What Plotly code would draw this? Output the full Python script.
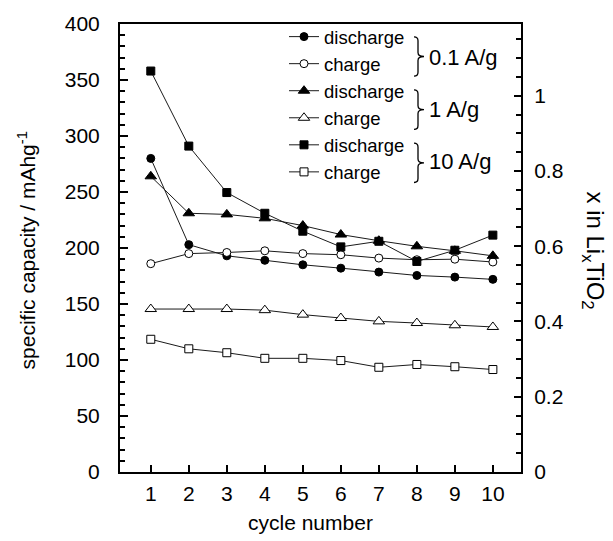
import plotly.graph_objects as go

# ---- data ----
cycles = [1, 2, 3, 4, 5, 6, 7, 8, 9, 10]
discharge_01 = [280, 203, 193, 189, 185, 182, 178.5, 175.5, 174, 172]
charge_01 = [186, 195, 196, 197.5, 195, 194, 191, 189.5, 190, 187.5]
discharge_1 = [264, 231, 230, 226.5, 220, 212, 206.5, 201.5, 197.5, 193]
charge_1 = [145.5, 145.5, 145.5, 144.5, 140.5, 137.5, 134.5, 133, 131, 129.5]
discharge_10 = [358, 291, 249.5, 231, 215, 201, 206, 188, 198, 211.5]
charge_10 = [118.5, 110, 106.5, 101.5, 101.5, 99.5, 93.5, 96, 94, 91.5]
rate_labels = ["0.1 A/g", "1 A/g", "10 A/g"]
x_ticks = cycles
y_ticks = [0, 50, 100, 150, 200, 250, 300, 350, 400]
x_li_ticks = [0, 0.2, 0.4, 0.6, 0.8, 1]
capacity_per_li = 336.0  # mAh/g corresponding to x = 1 in LixTiO2

W, H = 613, 541
L, R, T, B = 120, 521, 17, 472

def px(xp):
    return (xp - L) / (R - L)

def py(yp):
    return (B - yp) / (B - T)

FONT = "Liberation Sans, Arial, Helvetica, sans-serif"
LINE = "#1a1a1a"

series = [
    ("discharge", discharge_01, "circle", "black", 8),
    ("charge", charge_01, "circle", "white", 8),
    ("discharge", discharge_1, "triangle-up", "black", 10),
    ("charge", charge_1, "triangle-up", "white", 10),
    ("discharge", discharge_10, "square", "black", 8),
    ("charge", charge_10, "square", "white", 8),
]

fig = go.Figure()
for name, vals, sym, fill, size in series:
    fig.add_trace(go.Scatter(
        x=cycles, y=vals, name=name, mode="lines+markers",
        line=dict(color=LINE, width=1),
        marker=dict(symbol=sym, size=size, color=fill,
                    line=dict(color="black", width=1)),
    ))

# invisible trace to anchor the right-hand axis
fig.add_trace(go.Scatter(
    x=cycles, y=[v / capacity_per_li for v in discharge_01], yaxis="y2",
    mode="markers", marker=dict(opacity=0), showlegend=False, hoverinfo="skip",
))

fig.update_layout(
    width=W, height=H,
    margin=dict(l=L, r=W - R, t=T, b=H - B, pad=0),
    paper_bgcolor="white", plot_bgcolor="white",
    font=dict(family=FONT, size=20, color="black"),
    showlegend=True,
    legend=dict(
        x=px(284), y=py(11), xanchor="left", yanchor="top",
        font=dict(family=FONT, size=18.5, color="black"),
        bgcolor="rgba(0,0,0,0)", borderwidth=0, traceorder="normal",
    ),
    xaxis=dict(
        range=[0.19, 10.74], tickvals=x_ticks, ticks="inside", ticklen=7,
        tickwidth=1.5, tickcolor="black", showline=True, linewidth=2,
        linecolor="black", mirror=True, showgrid=False, zeroline=False,
        ticklabelstandoff=2, tickfont=dict(size=21),
    ),
    yaxis=dict(
        range=[0, 400], tickvals=y_ticks, ticks="inside", ticklen=8,
        tickwidth=1.5, tickcolor="black", showline=True, linewidth=2,
        linecolor="black", showgrid=False, zeroline=False,
        ticklabelstandoff=14, tickfont=dict(size=21),
        minor=dict(dtick=10, ticks="inside", ticklen=5, tickwidth=1.5,
                   tickcolor="black", showgrid=False),
    ),
    yaxis2=dict(
        overlaying="y", side="right", range=[0, 400 / capacity_per_li],
        tickvals=x_li_ticks, ticks="inside", ticklen=7, tickwidth=1.5,
        tickcolor="black", showline=True, linewidth=2, linecolor="black",
        showgrid=False, zeroline=False, ticklabelstandoff=7,
        tickfont=dict(size=21),
        minor=dict(dtick=0.05, ticks="inside", ticklen=5, tickwidth=1.5,
                   tickcolor="black", showgrid=False),
    ),
)

annotations = [
    dict(text="specific capacity / mAhg<sup>-1</sup>", x=px(27), y=py(247),
         textangle=-90, font=dict(size=21)),
    dict(text="x in Li<sub>x</sub>TiO<sub>2</sub>", x=px(594), y=py(247),
         textangle=90, font=dict(size=24)),
    dict(text="cycle number", x=px(310), y=py(523), font=dict(size=21)),
]
for a in annotations:
    a.update(xref="paper", yref="paper", showarrow=False,
             xanchor="center", yanchor="middle")

# rate labels and braces grouping the legend entries
brace_spans = [(30, 70), (84, 124), (138, 178)]
label_y = [51, 104, 157]
shapes = []
for (y0, y1), lab, ly in zip(brace_spans, rate_labels, label_y):
    annotations.append(dict(text=lab, x=px(427), y=py(ly), xref="paper",
                            yref="paper", showarrow=False, xanchor="left",
                            yanchor="middle", font=dict(size=22)))
    xa, xb, xt = 414, 418, 424
    ym = (y0 + y1) / 2
    path = (f"M {px(xa)},{py(y0)} Q {px(xb)},{py(y0)} {px(xb)},{py(y0 + 4)} "
            f"L {px(xb)},{py(ym - 4)} Q {px(xb)},{py(ym)} {px(xt)},{py(ym)} "
            f"Q {px(xb)},{py(ym)} {px(xb)},{py(ym + 4)} "
            f"L {px(xb)},{py(y1 - 4)} Q {px(xb)},{py(y1)} {px(xa)},{py(y1)}")
    shapes.append(dict(type="path", path=path, xref="paper", yref="paper",
                       line=dict(color="black", width=1.3)))

fig.update_layout(annotations=annotations, shapes=shapes)
fig.write_html("out.html")
